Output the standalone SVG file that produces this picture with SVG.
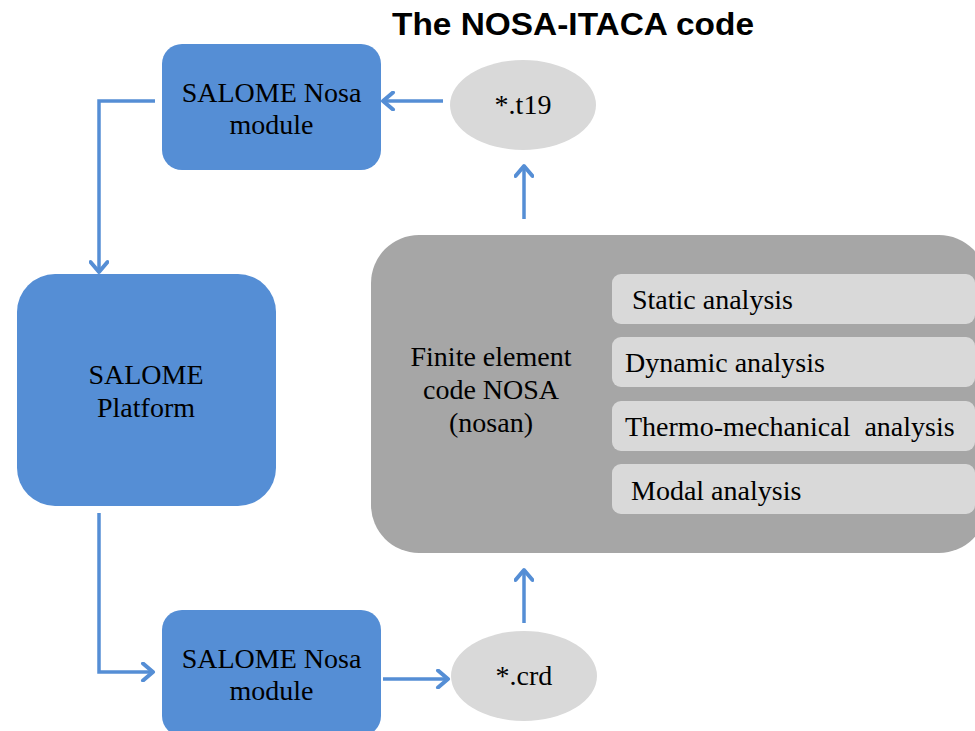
<svg xmlns="http://www.w3.org/2000/svg" width="975" height="731" viewBox="0 0 975 731">
<defs>
<style>
.blue{fill:#558ed5;}
.oval{fill:#d9d9d9;}
.sub{fill:#d9d9d9;}
.big{fill:#a6a6a6;}
.t{font-family:"Liberation Serif","Times New Roman",serif;font-size:28px;fill:#000;}
.c{text-anchor:middle;}
.title{font-family:"Liberation Sans",Arial,sans-serif;font-size:32px;font-weight:bold;fill:#000;text-anchor:middle;}
.conn{fill:none;stroke:#558ed5;stroke-width:3.5;}
</style>
<marker id="arr" markerUnits="userSpaceOnUse" viewBox="0 0 20 20" markerWidth="20" markerHeight="20" refX="17" refY="10" orient="auto">
<path d="M7,1.5 L17,10 L7,18.5" fill="none" stroke="#558ed5" stroke-width="4" stroke-linecap="round" stroke-linejoin="round"/>
</marker>
</defs>
<rect width="975" height="731" fill="#fff"/>
<text class="title" x="573" y="35" textLength="362" lengthAdjust="spacingAndGlyphs">The NOSA-ITACA code</text>

<g id="connectors">
<path class="conn" d="M443,101 L383,101" marker-end="url(#arr)"/>
<path class="conn" d="M155,101 L99,101 L99,272" marker-end="url(#arr)"/>
<path class="conn" d="M99,513 L99,672 L153,672" marker-end="url(#arr)"/>
<path class="conn" d="M383,679 L448,679" marker-end="url(#arr)"/>
<path class="conn" d="M524,623 L524,570" marker-end="url(#arr)"/>
<path class="conn" d="M524,219 L524,166" marker-end="url(#arr)"/>
</g>

<g id="module_top">
<rect class="blue" x="162" y="44" width="219" height="126" rx="20"/>
<text class="t c" x="271.5" y="102">SALOME Nosa</text>
<text class="t c" x="271.5" y="134">module</text>
</g>

<g id="t19">
<ellipse class="oval" cx="523" cy="105" rx="73" ry="45"/>
<text class="t c" x="523" y="114">*.t19</text>
</g>

<g id="platform">
<rect class="blue" x="17" y="274" width="259" height="232" rx="38"/>
<text class="t c" x="146" y="384">SALOME</text>
<text class="t c" x="146" y="417">Platform</text>
</g>

<g id="nosa">
<rect class="big" x="371" y="235" width="616" height="318" rx="48"/>
<text class="t c" x="491" y="366">Finite element</text>
<text class="t c" x="491" y="399">code NOSA</text>
<text class="t c" x="491" y="432">(nosan)</text>
</g>

<g id="static">
<rect class="sub" x="612" y="274" width="363" height="50" rx="9"/>
<text class="t" x="632" y="309">Static analysis</text>
</g>
<g id="dynamic">
<rect class="sub" x="612" y="337" width="363" height="50" rx="9"/>
<text class="t" x="625" y="372">Dynamic analysis</text>
</g>
<g id="thermo">
<rect class="sub" x="612" y="401" width="363" height="50" rx="9"/>
<text class="t" x="625" y="436" xml:space="preserve">Thermo-mechanical  analysis</text>
</g>
<g id="modal">
<rect class="sub" x="612" y="464" width="363" height="50" rx="9"/>
<text class="t" x="631" y="500">Modal analysis</text>
</g>

<g id="module_bottom">
<rect class="blue" x="162" y="610" width="219" height="126" rx="20"/>
<text class="t c" x="271.5" y="668">SALOME Nosa</text>
<text class="t c" x="271.5" y="700">module</text>
</g>

<g id="crd">
<ellipse class="oval" cx="524" cy="676" rx="73" ry="45"/>
<text class="t c" x="524" y="685">*.crd</text>
</g>
</svg>
